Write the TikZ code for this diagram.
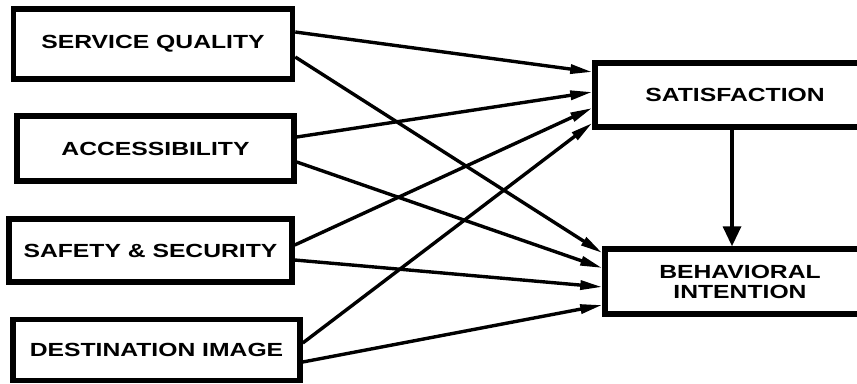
\documentclass[tikz,border=0pt]{standalone}
\usepackage{fontspec}
\usepackage{graphicx}
\setmainfont{Liberation Sans}
\usetikzlibrary{arrows.meta}
\begin{document}
\begin{tikzpicture}[x=1pt,y=-1pt,
  box/.style={draw,line width=5.5pt,rectangle,inner sep=0pt,
    font=\bfseries\fontsize{19}{20}\selectfont,align=center},
  link/.style={line width=3.4pt,-{Triangle[length=22pt,width=9pt]}}]
\useasboundingbox (0,0) rectangle (857,383);
% predictor constructs
\node[box,minimum width=279pt,minimum height=70pt] (sq) at (153,44)
  {\scalebox{1.3}[1]{SERVICE QUALITY}};
\node[box,minimum width=277pt,minimum height=65pt] (acc) at (155.5,148.5)
  {\scalebox{1.3}[1]{ACCESSIBILITY}};
\node[box,minimum width=283pt,minimum height=63pt] (ss) at (150.5,250.5)
  {\scalebox{1.3}[1]{SAFETY \& SECURITY}};
\node[box,minimum width=287pt,minimum height=61pt] (di) at (156.5,350)
  {\scalebox{1.3}[1]{DESTINATION IMAGE}};
% outcome constructs (run off the right edge)
\node[box,minimum width=280pt,minimum height=64pt] (sat) at (735,95)
  {\scalebox{1.3}[1]{SATISFACTION}};
\node[box,minimum width=270pt,minimum height=65pt] (bi) at (740,281.5)
  {\scalebox{1.3}[1]{BEHAVIORAL}\\\scalebox{1.3}[1]{INTENTION}};
% paths to satisfaction
\draw[link] ([yshift=12pt]sq.east) -- ([yshift=23pt]sat.west);
\draw[link] ([yshift=11.5pt]acc.east) -- ([yshift=3pt]sat.west);
\draw[link] ([yshift=5.5pt]ss.east) -- ([yshift=-13pt]sat.west);
\draw[link] ([yshift=7pt]di.east) -- ([yshift=-28pt]sat.west);
% paths to behavioral intention
\draw[link] ([yshift=-13pt]sq.east) -- ([yshift=28.5pt]bi.west);
\draw[link] ([yshift=-13.5pt]acc.east) -- ([yshift=13.5pt]bi.west);
\draw[link] ([yshift=-9.5pt]ss.east) -- ([yshift=-5.5pt]bi.west);
\draw[link] ([yshift=-12pt]di.east) -- ([yshift=-23.5pt]bi.west);
% satisfaction to behavioral intention
\draw[line width=3.4pt,-{Triangle[length=20pt,width=18pt]}]
  (sat.south -| 732,0) -- (bi.north -| 732,0);
\end{tikzpicture}
\end{document}
